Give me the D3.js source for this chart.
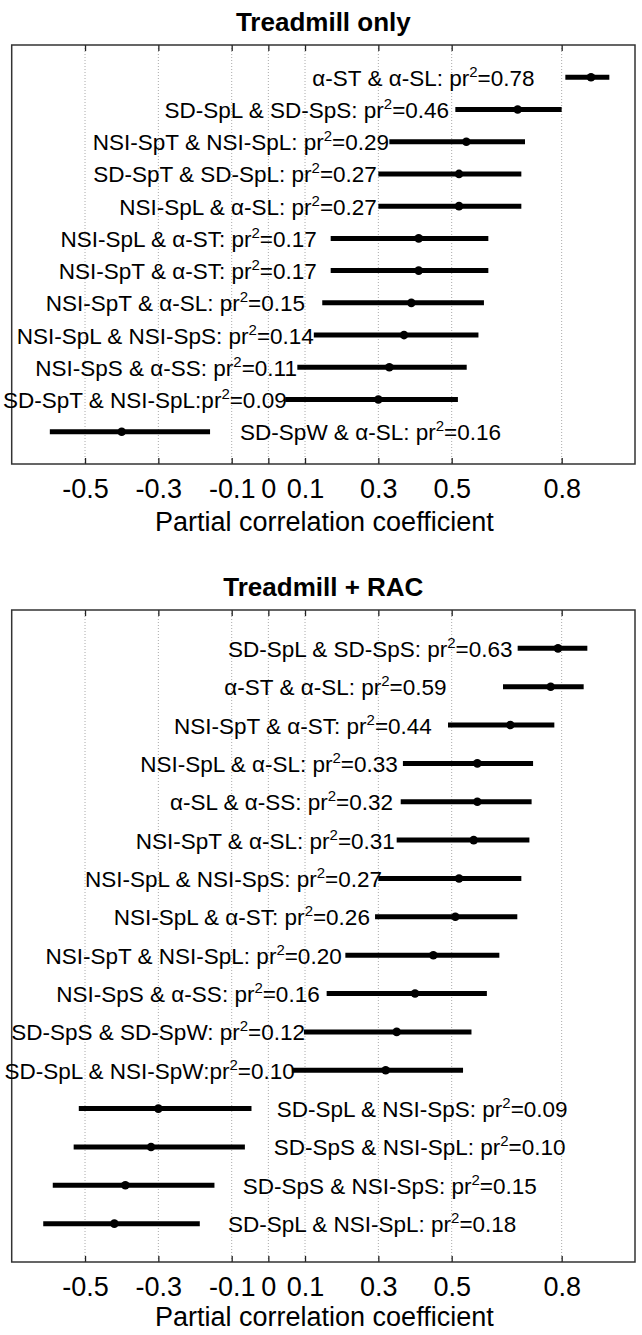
<!DOCTYPE html>
<html>
<head>
<meta charset="utf-8">
<script src="https://cdn.jsdelivr.net/npm/d3@7"></script>
<style>
  html, body { margin: 0; padding: 0; background: #fff; }
  svg { display: block; font-family: "Liberation Sans", Arial, Helvetica, sans-serif; }
</style>
</head>
<body>
<svg id="chart" width="642" height="1335"></svg>
<script>
// ---------- data ----------
const tickValues = [-0.5, -0.3, -0.1, 0, 0.1, 0.3, 0.5, 0.8];
const tickLabels = ["-0.5", "-0.3", "-0.1", "0", "0.1", "0.3", "0.5", "0.8"];
const xDomain = [-0.7, 1.0];

// Treadmill only
const topTitle = "Treadmill only";
const topPairs = ["α-ST & α-SL: ", "SD-SpL & SD-SpS: ", "NSI-SpT & NSI-SpL: ", "SD-SpT & SD-SpL: ",
  "NSI-SpL & α-SL: ", "NSI-SpL & α-ST: ", "NSI-SpT & α-ST: ", "NSI-SpT & α-SL: ",
  "NSI-SpL & NSI-SpS: ", "NSI-SpS & α-SS: ", "SD-SpT & NSI-SpL:", "SD-SpW & α-SL: "];
const topPr2 = ["0.78", "0.46", "0.29", "0.27", "0.27", "0.17", "0.17", "0.15", "0.14", "0.11", "0.09", "0.16"];
const topR = [0.88, 0.68, 0.54, 0.52, 0.52, 0.41, 0.41, 0.39, 0.37, 0.33, 0.30, -0.40];
const topLo = [0.81, 0.51, 0.33, 0.30, 0.30, 0.17, 0.17, 0.147, 0.124, 0.079, 0.046, -0.596];
const topHi = [0.93, 0.80, 0.70, 0.69, 0.69, 0.60, 0.60, 0.588, 0.573, 0.541, 0.517, -0.159];
// annotation anchors (data units): right end for positive rows, left start for negative rows
const topLabelAt = [0.726, 0.493, 0.329, 0.296, 0.296, 0.132, 0.132, 0.10, 0.124, 0.078, 0.05, -0.077];

// Treadmill + RAC
const botTitle = "Treadmill + RAC";
const botPairs = ["SD-SpL & SD-SpS: ", "α-ST & α-SL: ", "NSI-SpT & α-ST: ", "NSI-SpL & α-SL: ",
  "α-SL & α-SS: ", "NSI-SpT & α-SL: ", "NSI-SpL & NSI-SpS: ", "NSI-SpL & α-ST: ",
  "NSI-SpT & NSI-SpL: ", "NSI-SpS & α-SS: ", "SD-SpS & SD-SpW: ", "SD-SpL & NSI-SpW:",
  "SD-SpL & NSI-SpS: ", "SD-SpS & NSI-SpL: ", "SD-SpS & NSI-SpS: ", "SD-SpL & NSI-SpL: "];
const botPr2 = ["0.63", "0.59", "0.44", "0.33", "0.32", "0.31", "0.27", "0.26", "0.20", "0.16", "0.12", "0.10",
  "0.09", "0.10", "0.15", "0.18"];
const botR = [0.79, 0.77, 0.66, 0.57, 0.57, 0.56, 0.52, 0.51, 0.45, 0.40, 0.35, 0.32, -0.30, -0.32, -0.39, -0.42];
const botLo = [0.68, 0.64, 0.49, 0.367, 0.361, 0.35, 0.30, 0.291, 0.21, 0.159, 0.097, 0.064, -0.517, -0.531, -0.588, -0.614];
const botHi = [0.87, 0.86, 0.78, 0.722, 0.718, 0.712, 0.69, 0.679, 0.63, 0.596, 0.554, 0.531, -0.046, -0.064, -0.147, -0.187];
const botLabelAt = [0.666, 0.486, 0.446, 0.353, 0.34, 0.345, 0.31, 0.277, 0.2, 0.14, 0.1, 0.072, 0.023, 0.015, -0.07, -0.11];

const axisTitle = "Partial correlation coefficient";

// ---------- drawing ----------
const svg = d3.select("#chart");
const left = 11.7, right = 635;
const x = d3.scaleLinear().domain(xDomain).range([left, right]);

function drawPanel(cfg) {
  const n = cfg.pairs.length;
  const y = d3.scaleLinear().domain([0, n + 1]).range([cfg.top, cfg.bottom]);
  const g = svg.append("g");

  // title
  g.append("text").attr("x", (left + right) / 2).attr("y", cfg.top - 14)
    .attr("text-anchor", "middle").attr("font-size", 26).attr("font-weight", "bold")
    .attr("fill", "#000").text(cfg.title);

  // grid
  g.append("g").selectAll("line").data(tickValues).join("line")
    .attr("x1", d => x(d)).attr("x2", d => x(d))
    .attr("y1", cfg.top).attr("y2", cfg.bottom)
    .attr("stroke", "#aaa").attr("stroke-width", 1).attr("stroke-dasharray", "1,2");

  // bottom axis (inner ticks + labels)
  const ax = g.append("g").attr("transform", `translate(0,${cfg.bottom})`)
    .call(d3.axisBottom(x).tickValues(tickValues).tickFormat((d, i) => tickLabels[i])
      .tickSizeInner(-6).tickSizeOuter(0).tickPadding(15));
  ax.select(".domain").remove();
  ax.selectAll(".tick line").attr("stroke", "#222").attr("stroke-width", 1.3);
  ax.selectAll(".tick text").attr("font-size", 27).attr("fill", "#000")
    .attr("font-family", "'Liberation Sans', Arial, sans-serif");

  // top axis inner ticks
  const axT = g.append("g").attr("transform", `translate(0,${cfg.top})`)
    .call(d3.axisTop(x).tickValues(tickValues).tickFormat("").tickSizeInner(-6).tickSizeOuter(0));
  axT.select(".domain").remove();
  axT.selectAll(".tick line").attr("stroke", "#222").attr("stroke-width", 1.3);

  // box
  g.append("rect").attr("x", left).attr("y", cfg.top)
    .attr("width", right - left).attr("height", cfg.bottom - cfg.top)
    .attr("fill", "none").attr("stroke", "#333").attr("stroke-width", 1.5);

  const rows = d3.range(n).map(i => ({
    i, pair: cfg.pairs[i], pr2: cfg.pr2[i], r: cfg.r[i], lo: cfg.lo[i], hi: cfg.hi[i], at: cfg.labelAt[i]
  }));

  // labels
  const t = g.append("g").selectAll("text").data(rows).join("text")
    .attr("x", d => x(d.at)).attr("y", d => y(d.i + 1) + 8.5)
    .attr("text-anchor", d => d.r < 0 ? "start" : "end")
    .attr("font-size", 22.5).attr("fill", "#000");
  t.append("tspan").text(d => d.pair + "pr");
  t.append("tspan").attr("font-size", 15).attr("dy", -9).text("2");
  t.append("tspan").attr("dy", 9).text(d => "=" + d.pr2);

  // CI lines
  g.append("g").selectAll("line").data(rows).join("line")
    .attr("x1", d => x(d.lo)).attr("x2", d => x(d.hi))
    .attr("y1", d => y(d.i + 1)).attr("y2", d => y(d.i + 1))
    .attr("stroke", "#000").attr("stroke-width", 5);

  // points
  g.append("g").selectAll("circle").data(rows).join("circle")
    .attr("cx", d => x(d.r)).attr("cy", d => y(d.i + 1)).attr("r", 4.3)
    .attr("fill", "#000");

  // axis title
  g.append("text").attr("x", (left + right) / 2 + 1).attr("y", cfg.bottom + cfg.titleOffset)
    .attr("text-anchor", "middle").attr("font-size", 27).attr("fill", "#000").text(axisTitle);
}

drawPanel({ title: topTitle, pairs: topPairs, pr2: topPr2, r: topR, lo: topLo, hi: topHi,
  labelAt: topLabelAt, top: 45, bottom: 464, titleOffset: 67 });
drawPanel({ title: botTitle, pairs: botPairs, pr2: botPr2, r: botR, lo: botLo, hi: botHi,
  labelAt: botLabelAt, top: 610, bottom: 1262, titleOffset: 64 });
</script>
</body>
</html>
